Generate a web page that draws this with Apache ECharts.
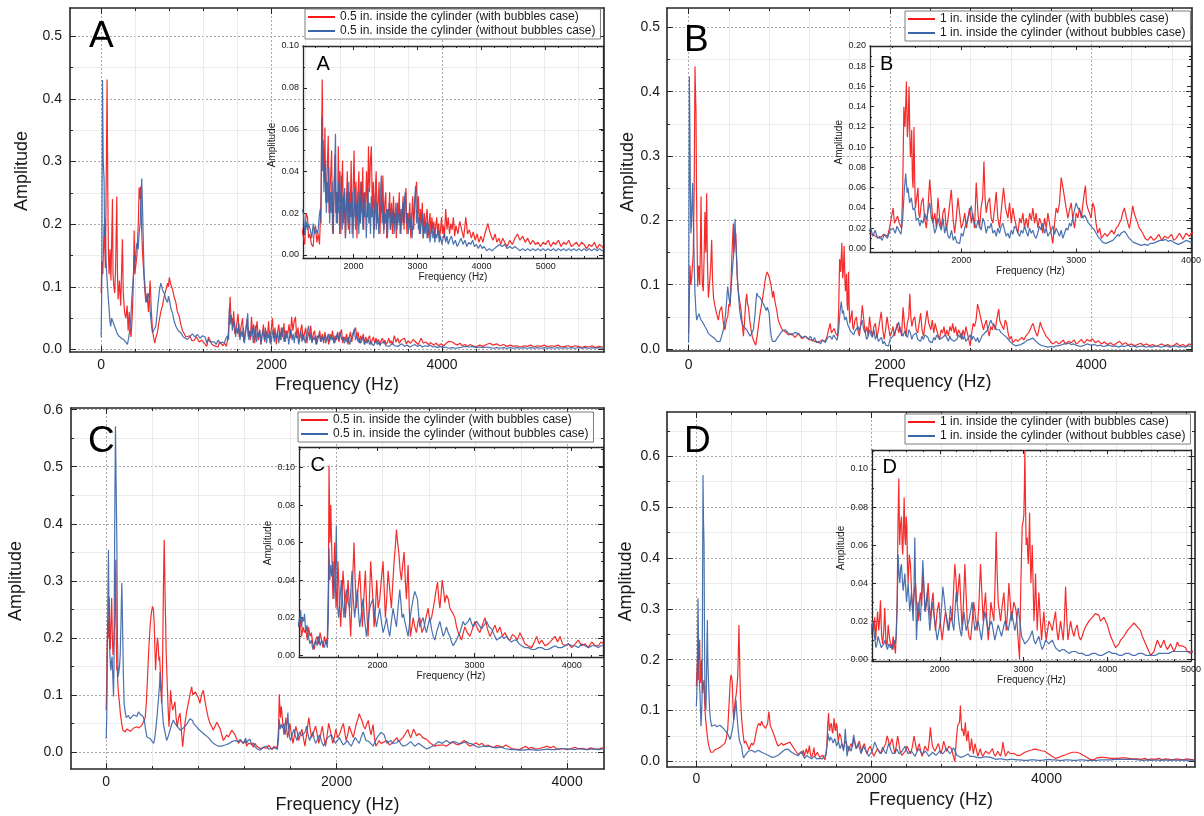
<!DOCTYPE html>
<html><head><meta charset="utf-8">
<script src="https://cdn.jsdelivr.net/npm/echarts@6/dist/echarts.min.js"></script>
<style>html,body{margin:0;padding:0;background:#fff}#c{width:1204px;height:816px}</style>
</head><body><div id="c"></div>
<script>
// Spectra: [frequency in Hz, amplitude x 1000]
const A_red=[[0,90],[10,140],[20,120],[35,200],[50,130],[62,300],[70,431],[78,260],[86,150],[94,120],[105,160],[115,110],[125,180],[133,240],[140,120],[150,100],[160,90],[170,130],[184,244],[192,120],[200,80],[215,110],[230,70],[250,176],[260,90],[275,60],[290,50],[305,70],[317,30],[330,60],[340,35],[350,20],[360,40],[370,70],[380,120],[388,190],[396,120],[410,120],[420,150],[427,150],[436,200],[446,258],[454,240],[462,260],[470,220],[477,186],[487,150],[497,130],[510,100],[525,75],[540,90],[555,60],[575,110],[590,60],[603,30],[615,20],[630,10],[645,20],[660,27],[680,45],[700,60],[720,70],[740,85],[760,95],[780,106],[790,100],[800,115],[815,105],[838,96],[855,85],[877,75],[895,60],[916,53],[935,40],[955,30],[975,25],[995,20],[1014,18],[1040,22],[1065,14],[1092,15],[1120,20],[1150,12],[1180,15],[1210,10],[1240,5],[1260,20],[1283,18],[1300,8],[1320,10],[1345,5],[1372,4],[1390,12],[1408,14],[1430,6],[1450,10],[1470,5],[1482,15],[1495,30],[1513,84],[1525,45],[1534,50],[1545,35],[1555,61],[1568,25],[1581,30],[1595,45],[1607,57],[1620,20],[1634,20],[1647,40],[1660,50],[1673,12],[1686,10],[1699,35],[1712,48],[1725,20],[1738,30],[1751,15],[1764,52],[1777,25],[1790,40],[1803,10],[1816,30],[1830,45],[1845,15],[1860,30],[1875,8],[1890,25],[1905,40],[1920,12],[1935,30],[1950,20],[1965,45],[1980,10],[1995,30],[2010,50],[2025,18],[2040,35],[2055,8],[2070,28],[2085,40],[2100,15],[2115,35],[2130,20],[2145,42],[2160,12],[2175,30],[2190,25],[2205,40],[2220,18],[2235,52],[2250,30],[2265,45],[2280,52],[2295,20],[2310,35],[2325,12],[2340,30],[2355,40],[2370,15],[2385,25],[2400,35],[2415,10],[2430,28],[2445,20],[2460,38],[2475,12],[2490,25],[2505,30],[2520,8],[2535,22],[2550,18],[2565,30],[2580,12],[2595,25],[2610,10],[2625,28],[2640,15],[2655,20],[2670,8],[2685,25],[2700,18],[2715,30],[2730,10],[2745,22],[2760,15],[2775,28],[2790,12],[2805,25],[2820,32],[2835,10],[2850,20],[2865,15],[2880,25],[2895,8],[2910,18],[2925,28],[2940,12],[2955,22],[2970,30],[2985,35],[3000,20],[3015,28],[3030,10],[3045,22],[3060,15],[3075,25],[3090,8],[3105,20],[3120,12],[3135,18],[3150,22],[3165,8],[3180,15],[3195,20],[3210,10],[3225,18],[3240,12],[3255,16],[3270,8],[3285,14],[3300,18],[3315,10],[3330,15],[3345,8],[3360,12],[3375,18],[3390,10],[3405,14],[3420,8],[3440,22],[3460,12],[3480,18],[3500,10],[3520,15],[3540,12],[3560,18],[3580,9],[3600,14],[3630,10],[3660,16],[3690,12],[3720,8],[3754,18],[3780,10],[3810,12],[3840,8],[3870,11],[3900,7],[3930,10],[3960,6],[3990,9],[4020,6],[4050,10],[4080,13],[4100,15],[4120,12],[4150,9],[4180,7],[4210,10],[4240,6],[4270,8],[4300,5],[4330,8],[4360,6],[4400,4],[4440,7],[4480,5],[4520,8],[4560,10],[4600,7],[4640,9],[4680,6],[4720,8],[4760,5],[4800,7],[4840,5],[4880,6],[4920,4],[4960,6],[5000,5],[5040,7],[5080,4],[5120,6],[5160,5],[5200,7],[5240,4],[5280,6],[5320,5],[5360,7],[5400,4],[5440,5],[5480,6],[5520,4],[5560,6],[5600,5],[5640,3],[5680,5],[5720,4],[5760,6],[5800,3],[5840,5],[5880,4],[5900,3]];
const A_blue=[[0,20],[8,100],[16,430],[25,300],[35,270],[41,180],[47,210],[56,150],[66,120],[80,90],[94,64],[104,45],[113,37],[123,50],[133,48],[150,40],[172,32],[190,25],[211,21],[240,18],[270,15],[290,12],[309,8],[325,20],[340,35],[348,48],[360,80],[370,100],[380,120],[390,150],[400,140],[407,155],[420,170],[435,160],[446,186],[458,200],[467,240],[477,273],[483,240],[489,210],[497,160],[505,120],[520,90],[536,75],[550,85],[563,90],[575,60],[590,40],[603,27],[620,30],[642,37],[655,55],[669,75],[685,95],[700,106],[720,95],[740,90],[760,80],[780,75],[790,85],[800,80],[820,65],[838,58],[857,45],[877,37],[905,30],[935,27],[965,20],[990,18],[1014,16],[1040,20],[1070,25],[1100,20],[1131,24],[1160,18],[1190,22],[1220,20],[1240,10],[1260,16],[1280,12],[1300,15],[1327,12],[1350,8],[1372,15],[1395,10],[1420,12],[1444,10],[1465,18],[1482,22],[1495,15],[1505,66],[1515,40],[1528,55],[1540,30],[1552,40],[1565,45],[1578,20],[1590,35],[1603,25],[1616,42],[1629,15],[1642,30],[1655,20],[1668,35],[1681,10],[1694,25],[1707,40],[1720,58],[1733,15],[1746,30],[1759,20],[1772,35],[1785,10],[1798,25],[1811,38],[1824,12],[1837,28],[1850,20],[1863,32],[1876,8],[1889,22],[1902,30],[1915,15],[1928,35],[1941,10],[1954,25],[1967,18],[1980,30],[1993,8],[2006,22],[2019,32],[2032,12],[2045,25],[2058,18],[2071,30],[2084,10],[2097,28],[2110,15],[2123,35],[2136,20],[2149,12],[2162,30],[2175,18],[2188,25],[2201,8],[2214,22],[2227,32],[2240,15],[2253,25],[2266,10],[2279,28],[2292,18],[2305,22],[2318,8],[2331,20],[2344,30],[2357,12],[2370,25],[2383,18],[2396,10],[2409,22],[2422,30],[2435,38],[2448,15],[2461,25],[2474,10],[2487,20],[2500,15],[2515,22],[2530,8],[2545,18],[2560,25],[2575,12],[2590,20],[2605,15],[2620,22],[2635,10],[2650,18],[2665,25],[2680,12],[2695,20],[2710,15],[2725,22],[2740,10],[2755,18],[2770,25],[2785,15],[2800,28],[2811,30],[2825,15],[2840,20],[2855,10],[2870,18],[2885,12],[2900,20],[2915,8],[2930,15],[2945,22],[2960,28],[2970,33],[2985,15],[3000,22],[3015,12],[3030,18],[3045,10],[3060,15],[3075,20],[3090,8],[3105,14],[3120,10],[3135,16],[3150,8],[3165,12],[3180,15],[3195,6],[3210,10],[3225,14],[3240,8],[3255,12],[3270,6],[3285,10],[3300,8],[3320,12],[3340,6],[3360,9],[3380,5],[3400,8],[3420,10],[3440,6],[3460,9],[3480,5],[3500,7],[3530,9],[3560,5],[3590,7],[3620,4],[3650,6],[3680,8],[3710,5],[3740,7],[3770,4],[3800,6],[3830,5],[3860,7],[3890,4],[3920,5],[3950,3],[3980,5],[4010,3],[4040,4],[4080,2],[4120,3],[4160,2],[4200,3],[4240,4],[4280,5],[4320,4],[4360,5],[4400,3],[4440,4],[4480,3],[4520,4],[4560,3],[4600,2],[4640,3],[4680,2],[4720,3],[4760,2],[4800,3],[4840,2],[4880,3],[4920,2],[4960,3],[5000,2],[5040,3],[5080,2],[5120,3],[5160,2],[5200,3],[5240,2],[5280,3],[5320,2],[5360,3],[5400,2],[5440,3],[5480,2],[5520,3],[5560,2],[5600,3],[5640,2],[5680,3],[5720,2],[5760,3],[5800,2],[5840,3],[5880,2],[5900,2]];
const B_red=[[0,25],[7,80],[13,130],[22,100],[30,110],[38,130],[46,150],[55,250],[63,439],[68,400],[73,370],[78,250],[83,180],[90,97],[100,130],[110,100],[117,160],[123,237],[129,150],[136,100],[145,90],[153,140],[162,213],[170,150],[179,242],[186,140],[196,80],[207,100],[219,128],[229,170],[237,110],[247,80],[262,66],[278,55],[295,45],[310,60],[328,66],[345,40],[361,30],[375,45],[388,50],[400,70],[411,66],[420,100],[428,138],[436,170],[444,195],[449,150],[454,160],[461,175],[468,180],[474,150],[481,118],[490,95],[501,80],[511,70],[521,60],[532,40],[544,20],[552,35],[560,55],[568,75],[577,86],[585,70],[594,65],[607,45],[620,30],[632,20],[643,14],[655,10],[667,6],[680,20],[693,35],[705,50],[715,60],[726,70],[740,85],[750,95],[760,107],[770,115],[780,120],[790,118],[800,112],[810,105],[818,100],[826,97],[835,80],[843,90],[852,80],[862,70],[876,60],[890,45],[909,37],[930,30],[958,27],[990,22],[1025,24],[1055,18],[1091,24],[1125,16],[1158,20],[1190,15],[1224,14],[1255,12],[1290,10],[1325,14],[1357,12],[1375,20],[1390,30],[1406,40],[1418,25],[1430,28],[1445,32],[1460,25],[1480,20],[1490,60],[1500,140],[1510,120],[1522,165],[1530,110],[1536,120],[1545,160],[1552,110],[1557,90],[1563,100],[1568,117],[1574,70],[1580,60],[1588,120],[1594,70],[1600,40],[1612,50],[1623,60],[1630,35],[1638,30],[1652,45],[1667,50],[1680,30],[1696,20],[1710,40],[1725,68],[1740,45],[1754,25],[1770,35],[1783,20],[1797,50],[1812,30],[1826,20],[1840,35],[1855,40],[1870,18],[1885,30],[1900,45],[1913,58],[1928,30],[1942,15],[1956,30],[1971,50],[1985,35],[2000,20],[2014,25],[2030,35],[2045,20],[2058,30],[2072,40],[2087,25],[2100,35],[2115,20],[2130,65],[2145,35],[2159,20],[2172,40],[2186,50],[2197,86],[2207,50],[2217,35],[2230,45],[2246,50],[2260,30],[2275,25],[2290,40],[2304,56],[2318,30],[2333,20],[2350,40],[2368,60],[2385,40],[2406,30],[2420,45],[2435,25],[2449,40],[2463,30],[2478,22],[2493,15],[2508,30],[2522,25],[2536,35],[2550,20],[2565,30],[2580,20],[2595,35],[2610,28],[2623,40],[2638,25],[2652,35],[2667,20],[2681,30],[2695,25],[2710,15],[2725,30],[2740,20],[2754,35],[2768,25],[2782,15],[2797,5],[2812,25],[2826,40],[2840,35],[2855,45],[2870,70],[2885,60],[2899,50],[2913,40],[2928,30],[2942,38],[2957,45],[2971,30],[2986,20],[3000,35],[3015,30],[3029,40],[3045,30],[3060,45],[3071,55],[3081,62],[3090,45],[3100,40],[3116,35],[3130,30],[3145,45],[3159,40],[3173,25],[3188,15],[3205,20],[3220,10],[3232,10],[3250,15],[3270,12],[3290,15],[3310,18],[3330,14],[3348,20],[3365,22],[3380,26],[3391,28],[3405,35],[3420,40],[3435,32],[3450,25],[3464,20],[3478,30],[3493,42],[3505,35],[3520,30],[3536,25],[3550,20],[3565,18],[3580,15],[3600,10],[3623,8],[3650,12],[3675,8],[3696,10],[3720,14],[3745,8],[3770,12],[3800,10],[3830,14],[3850,8],[3870,10],[3900,15],[3930,9],[3957,15],[3985,12],[4010,16],[4040,10],[4070,13],[4100,8],[4130,11],[4160,7],[4190,10],[4220,6],[4250,9],[4280,12],[4310,7],[4340,10],[4370,6],[4400,8],[4430,5],[4460,7],[4490,9],[4520,6],[4550,8],[4580,5],[4610,7],[4640,4],[4670,6],[4700,8],[4730,5],[4760,7],[4790,4],[4820,6],[4850,9],[4880,5],[4910,7],[4940,4],[4970,8],[5000,6]];
const B_blue=[[0,10],[3,200],[7,423],[12,350],[17,250],[22,180],[27,190],[34,230],[40,258],[45,210],[50,180],[57,120],[63,87],[72,60],[80,45],[90,50],[103,55],[115,48],[129,45],[145,40],[162,35],[180,30],[196,24],[212,22],[229,20],[245,18],[262,16],[280,12],[295,9],[312,12],[328,20],[345,30],[361,45],[375,70],[388,97],[400,80],[411,70],[420,90],[428,110],[438,130],[448,150],[455,180],[461,202],[467,170],[474,150],[484,110],[494,87],[507,60],[521,45],[533,40],[544,35],[560,32],[577,30],[594,25],[610,20],[627,25],[643,30],[660,55],[669,75],[677,87],[690,82],[700,80],[710,80],[725,75],[743,70],[757,65],[770,60],[782,65],[793,66],[800,55],[809,35],[820,20],[832,12],[842,9],[860,12],[876,14],[893,20],[909,24],[930,28],[958,30],[990,25],[1025,22],[1055,26],[1091,24],[1125,18],[1158,20],[1190,16],[1212,20],[1230,12],[1250,18],[1270,10],[1290,12],[1310,8],[1330,14],[1357,10],[1380,18],[1406,20],[1425,15],[1440,22],[1456,18],[1475,14],[1490,30],[1505,60],[1516,74],[1528,55],[1536,60],[1550,45],[1565,50],[1580,38],[1594,40],[1608,28],[1623,30],[1640,22],[1652,28],[1667,25],[1682,35],[1696,28],[1712,38],[1725,45],[1740,30],[1755,25],[1768,15],[1783,20],[1798,30],[1812,22],[1826,18],[1841,30],[1855,15],[1870,22],[1885,12],[1899,10],[1915,18],[1930,8],[1945,12],[1960,6],[1986,5],[2000,15],[2014,12],[2029,20],[2043,25],[2058,30],[2072,35],[2087,42],[2100,30],[2115,25],[2130,20],[2145,28],[2159,22],[2174,18],[2188,30],[2203,25],[2217,15],[2232,22],[2246,20],[2260,25],[2275,15],[2290,18],[2304,12],[2318,20],[2333,15],[2348,22],[2362,25],[2377,18],[2391,12],[2406,15],[2420,10],[2435,18],[2449,14],[2463,22],[2478,20],[2493,15],[2508,12],[2522,18],[2536,15],[2551,22],[2565,17],[2580,12],[2594,20],[2609,15],[2623,18],[2638,12],[2652,10],[2667,16],[2681,22],[2696,18],[2710,25],[2725,15],[2739,20],[2754,12],[2768,15],[2783,18],[2797,22],[2812,14],[2826,20],[2841,16],[2855,12],[2870,18],[2884,10],[2899,15],[2913,20],[2928,18],[2942,25],[2957,22],[2971,30],[2986,38],[3000,45],[3014,40],[3029,38],[3043,35],[3058,30],[3072,33],[3087,30],[3101,26],[3116,24],[3130,22],[3145,20],[3160,18],[3174,15],[3189,12],[3203,10],[3218,8],[3232,6],[3247,5],[3261,5],[3280,6],[3300,7],[3319,8],[3335,10],[3350,12],[3365,14],[3377,12],[3390,15],[3405,16],[3420,17],[3435,15],[3450,12],[3464,10],[3480,8],[3500,6],[3522,5],[3545,4],[3565,3],[3580,3],[3600,4],[3625,3],[3645,5],[3667,5],[3690,6],[3710,7],[3730,8],[3754,8],[3780,9],[3800,7],[3825,8],[3850,6],[3870,5],[3890,4],[3910,5],[3930,6],[3957,8],[3980,7],[4000,6],[4030,7],[4060,5],[4090,6],[4120,4],[4150,5],[4180,6],[4210,4],[4240,5],[4270,3],[4300,5],[4330,4],[4360,6],[4390,4],[4420,5],[4450,3],[4480,4],[4510,5],[4540,3],[4570,4],[4600,3],[4630,5],[4660,4],[4690,3],[4720,4],[4750,5],[4780,3],[4810,4],[4840,5],[4870,3],[4900,4],[4930,3],[4960,5],[5000,4]];
const C_red=[[0,73],[5,120],[9,190],[14,230],[20,200],[26,272],[31,200],[36,180],[42,230],[48,270],[54,200],[59,170],[66,190],[74,225],[80,280],[84,337],[88,200],[92,143],[96,150],[101,120],[108,100],[116,85],[122,70],[128,60],[136,48],[145,38],[155,36],[165,35],[180,40],[194,40],[210,36],[223,38],[240,42],[255,40],[267,44],[285,42],[300,45],[310,47],[322,52],[330,56],[339,60],[350,90],[359,130],[370,180],[383,225],[393,245],[403,255],[410,250],[417,225],[423,180],[429,143],[435,170],[441,190],[446,200],[452,185],[458,160],[464,167],[470,140],[476,110],[481,85],[487,120],[492,200],[496,270],[500,330],[504,372],[508,320],[512,267],[516,230],[520,180],[525,150],[530,120],[537,80],[545,44],[552,70],[559,108],[566,90],[577,73],[587,80],[597,88],[607,60],[617,44],[629,60],[641,68],[652,40],[664,9],[674,30],[684,50],[698,70],[713,85],[727,100],[742,114],[752,100],[762,97],[774,105],[786,108],[800,95],[814,85],[828,100],[843,108],[857,90],[872,73],[886,60],[901,50],[915,45],[930,38],[945,45],[960,52],[974,53],[990,40],[1003,30],[1017,20],[1032,25],[1046,30],[1061,26],[1075,32],[1090,38],[1104,41],[1118,30],[1133,22],[1148,15],[1163,20],[1177,18],[1191,15],[1205,20],[1220,10],[1235,15],[1249,12],[1262,14],[1278,8],[1290,15],[1307,10],[1320,12],[1335,6],[1350,3],[1365,8],[1380,10],[1395,6],[1410,12],[1425,8],[1440,4],[1455,10],[1470,6],[1485,10],[1496,40],[1502,101],[1512,60],[1520,80],[1526,80],[1535,45],[1543,30],[1552,45],[1560,60],[1567,40],[1574,25],[1584,35],[1594,50],[1608,30],[1622,15],[1634,30],[1646,45],[1658,35],[1670,20],[1684,30],[1698,40],[1711,25],[1725,10],[1742,35],[1759,60],[1771,40],[1783,25],[1800,35],[1818,45],[1832,30],[1845,15],[1860,30],[1876,45],[1890,25],[1904,10],[1918,30],[1931,50],[1948,35],[1966,15],[1980,25],[1993,40],[2008,25],[2024,30],[2040,40],[2058,50],[2070,35],[2082,20],[2096,30],[2110,45],[2127,35],[2144,25],[2158,38],[2172,50],[2185,58],[2196,67],[2208,60],[2220,55],[2234,45],[2247,40],[2260,48],[2275,55],[2287,40],[2299,30],[2308,40],[2316,48],[2328,25],[2340,10],[2355,15],[2368,20],[2385,15],[2402,12],[2418,18],[2436,20],[2458,12],[2481,15],[2500,20],[2522,25],[2540,18],[2557,20],[2575,25],[2591,30],[2605,35],[2619,39],[2632,30],[2643,25],[2655,32],[2667,40],[2680,35],[2694,28],[2710,32],[2729,30],[2746,25],[2763,25],[2780,22],[2797,20],[2815,15],[2832,12],[2850,10],[2866,8],[2884,12],[2900,15],[2925,12],[2952,10],[2978,14],[3003,18],[3030,14],[3055,12],[3080,16],[3107,20],[3132,14],[3158,10],[3185,13],[3210,16],[3235,12],[3261,15],[3287,10],[3313,12],[3340,9],[3364,8],[3390,11],[3416,10],[3440,8],[3467,12],[3493,9],[3519,6],[3550,5],[3588,4],[3615,7],[3639,10],[3665,6],[3691,8],[3725,5],[3759,6],[3795,8],[3828,10],[3855,7],[3880,10],[3905,6],[3931,5],[3965,6],[4000,4],[4035,6],[4069,8],[4100,5],[4137,6],[4170,4],[4206,7],[4240,5],[4275,5],[4300,7],[4326,6]];
const C_blue=[[0,23],[5,60],[9,130],[14,250],[20,354],[24,260],[29,190],[35,160],[41,143],[47,160],[52,167],[58,130],[64,97],[68,150],[72,310],[76,450],[81,571],[86,480],[93,366],[98,200],[104,132],[110,140],[116,150],[122,170],[128,220],[132,260],[136,296],[141,240],[145,190],[150,130],[156,85],[165,70],[174,60],[184,62],[194,64],[208,58],[223,60],[238,65],[252,67],[266,62],[281,70],[295,66],[310,67],[320,62],[330,56],[342,40],[354,26],[368,28],[383,23],[397,20],[412,15],[420,22],[426,32],[436,50],[446,73],[455,95],[464,120],[468,140],[474,110],[480,103],[487,75],[496,50],[510,35],[525,20],[540,28],[554,38],[568,48],[583,56],[597,50],[612,47],[627,42],[641,38],[655,40],[670,42],[684,44],[698,48],[713,53],[727,58],[742,61],[750,55],[757,50],[771,48],[786,44],[800,40],[814,38],[829,35],[843,33],[857,30],[872,29],[887,25],[901,22],[916,18],[930,15],[945,13],[959,12],[975,10],[990,11],[1003,10],[1017,9],[1032,12],[1046,10],[1060,14],[1075,15],[1090,18],[1104,16],[1118,20],[1133,20],[1148,18],[1163,22],[1177,20],[1191,15],[1200,18],[1210,24],[1220,15],[1230,20],[1240,18],[1250,22],[1262,12],[1275,16],[1290,10],[1305,6],[1320,8],[1335,3],[1350,6],[1365,8],[1380,5],[1395,10],[1410,5],[1425,8],[1440,6],[1455,4],[1470,8],[1485,4],[1495,20],[1502,57],[1510,40],[1520,48],[1530,42],[1543,50],[1552,30],[1560,30],[1570,50],[1577,69],[1584,40],[1592,25],[1601,20],[1615,30],[1629,40],[1642,28],[1656,20],[1668,30],[1680,35],[1698,28],[1715,25],[1727,35],[1739,45],[1752,30],[1766,20],[1780,28],[1794,35],[1806,22],[1818,15],[1835,22],[1852,30],[1870,18],[1887,10],[1904,18],[1921,25],[1938,28],[1955,30],[1972,22],[1990,15],[2007,20],[2024,25],[2041,18],[2058,12],[2075,15],[2093,20],[2110,14],[2127,10],[2144,18],[2161,25],[2178,20],[2196,15],[2212,25],[2230,35],[2242,28],[2254,20],[2268,22],[2282,18],[2299,14],[2316,10],[2333,18],[2351,25],[2368,30],[2385,34],[2398,32],[2412,30],[2424,22],[2436,15],[2453,18],[2471,20],[2488,15],[2505,12],[2522,16],[2540,20],[2557,14],[2574,10],[2591,8],[2608,12],[2625,15],[2643,18],[2660,14],[2677,10],[2694,12],[2711,15],[2728,12],[2746,10],[2763,7],[2780,5],[2797,6],[2814,8],[2831,10],[2849,12],[2866,15],[2883,18],[2900,16],[2918,15],[2935,18],[2952,20],[2969,17],[2986,15],[3003,16],[3021,18],[3046,16],[3072,14],[3098,16],[3124,18],[3150,15],[3175,14],[3200,11],[3227,8],[3252,9],[3278,10],[3304,9],[3330,10],[3355,8],[3381,7],[3407,8],[3433,8],[3459,6],[3485,5],[3519,4],[3553,4],[3587,3],[3622,3],[3656,4],[3691,4],[3725,3],[3759,3],[3793,4],[3828,5],[3862,4],[3897,4],[3931,5],[3966,6],[4000,5],[4034,5],[4069,4],[4103,6],[4137,5],[4172,4],[4206,5],[4240,5],[4275,4],[4300,5],[4326,5]];
const D_red=[[0,147],[5,170],[11,190],[16,210],[22,160],[27,232],[33,200],[38,239],[44,180],[49,154],[55,190],[61,200],[66,160],[72,134],[80,150],[88,160],[94,120],[99,100],[108,80],[118,62],[128,45],[137,36],[146,28],[156,23],[165,18],[175,16],[190,18],[200,20],[213,23],[232,25],[251,26],[270,28],[289,30],[308,33],[327,36],[342,45],[358,62],[370,100],[380,134],[388,160],[396,170],[404,165],[411,154],[418,110],[426,82],[434,100],[441,115],[449,125],[457,134],[465,150],[472,167],[478,200],[483,240],[487,268],[491,230],[495,200],[498,167],[504,130],[510,108],[517,85],[525,69],[536,50],[548,36],[562,40],[575,43],[588,30],[601,23],[616,30],[631,36],[646,32],[662,38],[675,50],[688,62],[700,70],[715,75],[730,70],[745,79],[760,72],[776,69],[790,65],[802,62],[815,75],[822,88],[829,98],[836,85],[845,70],[852,69],[865,62],[878,56],[891,50],[905,43],[920,35],[935,30],[954,33],[973,36],[992,32],[1011,30],[1030,35],[1049,33],[1068,38],[1087,36],[1106,28],[1125,23],[1144,18],[1163,13],[1182,17],[1199,20],[1210,15],[1222,22],[1233,10],[1245,18],[1257,25],[1270,15],[1280,20],[1291,31],[1305,12],[1318,8],[1330,15],[1343,27],[1355,10],[1370,7],[1383,18],[1397,12],[1411,8],[1430,5],[1442,12],[1455,8],[1470,3],[1480,15],[1490,30],[1500,70],[1510,95],[1520,60],[1530,70],[1542,75],[1550,60],[1558,55],[1566,70],[1574,85],[1582,65],[1590,60],[1598,75],[1606,70],[1614,50],[1622,40],[1635,55],[1649,50],[1663,35],[1677,25],[1693,35],[1709,40],[1725,28],[1741,20],[1755,30],[1769,35],[1783,28],[1797,45],[1813,35],[1829,25],[1845,32],[1861,40],[1875,28],[1888,20],[1904,30],[1920,35],[1934,22],[1948,15],[1968,25],[1988,30],[2008,18],[2028,10],[2048,18],[2068,25],[2088,20],[2108,15],[2128,22],[2147,20],[2163,35],[2179,50],[2193,42],[2207,30],[2221,38],[2235,45],[2251,30],[2267,15],[2283,30],[2299,50],[2313,35],[2327,20],[2347,12],[2367,10],[2387,20],[2406,30],[2426,22],[2446,15],[2466,28],[2486,50],[2502,35],[2518,20],[2532,28],[2546,35],[2562,20],[2578,10],[2594,18],[2610,30],[2627,25],[2645,20],[2660,40],[2673,67],[2685,45],[2697,30],[2711,25],[2725,20],[2745,28],[2765,35],[2779,25],[2793,15],[2809,25],[2825,40],[2841,30],[2857,20],[2870,25],[2884,30],[2898,28],[2912,25],[2924,18],[2936,10],[2944,5],[2952,0],[2960,20],[2968,40],[2976,55],[2984,70],[2994,72],[3004,76],[3010,90],[3016,110],[3024,80],[3032,60],[3038,62],[3044,64],[3050,55],[3056,50],[3064,60],[3072,77],[3080,55],[3088,40],[3096,50],[3104,60],[3114,40],[3124,20],[3134,30],[3143,45],[3153,30],[3163,15],[3173,25],[3183,35],[3199,22],[3215,10],[3229,18],[3243,25],[3257,15],[3271,10],[3287,15],[3303,20],[3323,18],[3343,15],[3362,20],[3382,25],[3398,15],[3414,10],[3428,15],[3442,20],[3458,15],[3474,10],[3488,20],[3502,38],[3516,22],[3530,10],[3546,15],[3562,20],[3582,15],[3602,12],[3622,16],[3641,18],[3661,12],[3681,10],[3701,12],[3721,15],[3741,17],[3761,18],[3781,20],[3801,20],[3821,22],[3841,22],[3860,24],[3880,25],[3900,23],[3920,20],[3940,21],[3960,22],[3980,20],[4000,18],[4020,15],[4040,12],[4060,10],[4080,8],[4100,6],[4120,5],[4140,8],[4159,10],[4179,11],[4199,12],[4219,13],[4239,15],[4259,16],[4279,17],[4299,18],[4319,19],[4339,18],[4359,17],[4379,16],[4398,15],[4418,12],[4438,10],[4458,8],[4478,6],[4498,4],[4518,2],[4538,3],[4558,4],[4578,7],[4598,10],[4618,8],[4637,6],[4657,8],[4677,10],[4697,7],[4717,5],[4737,6],[4757,8],[4777,6],[4797,4],[4817,6],[4837,9],[4857,7],[4876,6],[4896,7],[4916,8],[4936,6],[4956,4],[4976,5],[4996,3],[5040,5],[5080,4],[5120,6],[5160,3],[5200,5],[5240,4],[5280,6],[5320,3],[5360,5],[5400,4],[5440,3],[5480,5],[5520,4],[5560,3],[5600,5],[5640,4],[5680,3],[5700,4]];
const D_blue=[[0,108],[5,130],[11,167],[15,250],[19,321],[24,250],[30,180],[36,150],[42,134],[48,100],[53,69],[59,90],[65,120],[70,300],[76,563],[82,470],[88,430],[93,250],[99,128],[105,110],[110,100],[116,160],[121,230],[126,278],[131,200],[137,167],[145,130],[152,100],[163,80],[175,69],[194,70],[213,72],[232,68],[251,69],[270,71],[289,72],[308,65],[327,62],[342,58],[358,56],[371,50],[384,43],[397,50],[411,62],[422,75],[434,88],[444,105],[453,121],[460,100],[468,82],[479,60],[490,43],[503,35],[517,30],[528,15],[540,7],[557,12],[575,16],[594,20],[612,23],[631,22],[650,20],[669,18],[688,20],[707,22],[726,20],[745,18],[764,16],[783,15],[802,13],[821,12],[840,10],[859,8],[878,7],[897,9],[916,10],[935,12],[954,15],[973,18],[992,20],[1011,23],[1030,26],[1049,24],[1068,22],[1087,18],[1106,16],[1125,14],[1144,12],[1163,11],[1182,13],[1199,20],[1212,15],[1225,10],[1237,6],[1250,8],[1262,12],[1275,10],[1288,8],[1300,6],[1315,5],[1330,8],[1345,10],[1360,7],[1375,5],[1390,8],[1410,6],[1425,8],[1440,5],[1455,10],[1468,8],[1480,12],[1492,30],[1502,55],[1512,45],[1522,40],[1532,48],[1542,50],[1552,42],[1562,36],[1572,40],[1582,45],[1592,38],[1602,30],[1612,35],[1622,40],[1632,32],[1641,25],[1651,30],[1661,35],[1671,28],[1681,20],[1691,35],[1701,64],[1710,40],[1721,10],[1731,20],[1741,30],[1755,25],[1769,20],[1783,35],[1797,52],[1809,40],[1821,25],[1835,28],[1849,35],[1865,25],[1881,15],[1895,22],[1908,30],[1924,25],[1940,20],[1954,15],[1968,10],[1988,15],[2008,20],[2022,28],[2036,38],[2052,32],[2068,25],[2084,20],[2100,15],[2113,20],[2127,28],[2147,20],[2167,15],[2181,25],[2195,35],[2211,28],[2227,20],[2243,15],[2259,12],[2273,18],[2287,25],[2301,20],[2315,15],[2331,18],[2347,20],[2367,25],[2386,30],[2402,22],[2418,15],[2438,18],[2458,20],[2478,15],[2498,10],[2518,18],[2538,25],[2558,20],[2578,15],[2598,18],[2618,20],[2638,15],[2657,10],[2677,14],[2697,18],[2717,15],[2737,12],[2757,16],[2777,20],[2797,18],[2817,15],[2837,20],[2857,25],[2877,20],[2896,15],[2916,20],[2936,27],[2956,20],[2976,12],[2996,10],[3016,8],[3036,9],[3056,10],[3080,12],[3104,15],[3124,10],[3143,8],[3163,10],[3183,12],[3203,8],[3223,5],[3243,7],[3263,10],[3283,9],[3303,8],[3323,9],[3343,10],[3362,8],[3382,6],[3406,5],[3430,4],[3456,5],[3482,5],[3512,4],[3542,3],[3582,4],[3622,4],[3661,3],[3701,3],[3741,2],[3781,2],[3821,3],[3861,3],[3900,2],[3940,2],[3980,3],[4020,4],[4060,3],[4100,3],[4140,2],[4179,2],[4219,3],[4259,3],[4299,2],[4339,2],[4379,3],[4418,3],[4458,2],[4498,2],[4538,2],[4578,2],[4618,3],[4657,3],[4697,3],[4737,3],[4777,4],[4817,4],[4857,4],[4896,4],[4936,4],[4976,4],[5000,4],[5050,3],[5100,2],[5150,3],[5200,2],[5250,3],[5300,2],[5350,3],[5400,2],[5450,3],[5500,2],[5550,3],[5600,2],[5650,3],[5700,2]];

// Series names (legends)
const NAMES_05=['0.5 in. inside the cylinder (with bubbles case)','0.5 in. inside the cylinder (without bubbles case)'];
const NAMES_1=['1 in. inside the cylinder (with bubbles case)','1 in. inside the cylinder (without bubbles case)'];

// Tick labels
const MAIN_X_TICKS=[0,2000,4000];
const MAIN_Y_TICKS_05=[0,0.1,0.2,0.3,0.4,0.5];
const MAIN_Y_TICKS_06=[0,0.1,0.2,0.3,0.4,0.5,0.6];
const INSET_X_TICKS_A=[2000,3000,4000,5000];
const INSET_X_TICKS_B=[2000,3000,4000];
const INSET_X_TICKS_C=[2000,3000,4000];
const INSET_X_TICKS_D=[2000,3000,4000,5000];
const INSET_Y_TICKS_10=[0,0.02,0.04,0.06,0.08,0.1];
const INSET_Y_TICKS_20=[0,0.02,0.04,0.06,0.08,0.1,0.12,0.14,0.16,0.18,0.2];

const RED='#f41a1a', BLUE='#3a66a8';
const FF='"Liberation Sans", Arial, sans-serif';

const panels=[
 {key:'A', red:A_red, blue:A_blue, names:NAMES_05,
  main:{grid:[70,8,534,344], x:[-365,5900,MAIN_X_TICKS,400], y:[-0.004,0.545,MAIN_Y_TICKS_05,0.05], xGap:24, yGap:39, yPad:18, xm:6, ym:8},
  inset:{grid:[303,46,300,212], x:[1213,5895,INSET_X_TICKS_A,200], y:[-0.0015,0.1,INSET_Y_TICKS_10,0.01], xGap:10, yGap:22, yPad:14},
  legend:[305,9], letter:[89,18.5], iletter:[316.5,54]},
 {key:'B', red:B_red, blue:B_blue, names:NAMES_1,
  main:{grid:[667,8,525,343], x:[-215,5000,MAIN_X_TICKS,400], y:[-0.003,0.53,MAIN_Y_TICKS_05,0.05], xGap:22, yGap:30, yPad:15, xm:7, ym:7},
  inset:{grid:[870,46,321,206.5], x:[1205,4000,INSET_X_TICKS_B,200], y:[-0.004,0.2,INSET_Y_TICKS_20,0.01], xGap:9, yGap:24, yPad:14},
  legend:[905,11], letter:[684,22], iletter:[880,54]},
 {key:'C', red:C_red, blue:C_blue, names:NAMES_05,
  main:{grid:[71,408,533,361], x:[-305,4320,MAIN_X_TICKS,400], y:[-0.03,0.603,MAIN_Y_TICKS_06,0.05], xGap:27, yGap:46, yPad:15, xm:6.5, ym:8},
  inset:{grid:[299,447,304,210], x:[1193,4322,INSET_X_TICKS_C,200], y:[-0.001,0.111,INSET_Y_TICKS_10,0.01], xGap:11, yGap:24, yPad:18},
  legend:[298,412], letter:[88,423.5], iletter:[310.5,455.5]},
 {key:'D', red:D_red, blue:D_blue, names:NAMES_1,
  main:{grid:[667,412,528,355], x:[-335,5695,MAIN_X_TICKS,400], y:[-0.011,0.687,MAIN_Y_TICKS_06,0.05], xGap:24, yGap:32, yPad:16, xm:5, ym:7},
  inset:{grid:[872,450,322,211], x:[1190,5000,INSET_X_TICKS_D,200], y:[-0.001,0.11,INSET_Y_TICKS_10,0.01], xGap:11, yGap:24, yPad:15},
  legend:[905,414], letter:[684,423.5], iletter:[882.5,457]}
];

function minors(min,max,step,major){
  const out=[];
  for(let k=Math.ceil(min/step);k*step<=max+1e-9;k++){
    const v=+(k*step).toFixed(6);
    if(!major.some(m=>Math.abs(m-v)<step*1e-3)) out.push(v);
  }
  return out;
}

const grids=[], xAxes=[], yAxes=[], series=[], graphic=[], legends=[];

function addAxes(list, dim, gi, ax, st){
  const [min,max,major,step]=ax;
  const isX=dim==='x';
  const p1=isX?'bottom':'left', p2=isX?'top':'right';
  const minor=minors(min,max,step,major);
  const base={type:'value',gridIndex:gi,min:min,max:max};
  const line={show:true,onZero:false,lineStyle:{color:'#262626',width:st.lw}};
  const noLine={show:false,onZero:false};
  const tick=(vals,len)=>({show:true,inside:true,length:len,customValues:vals,lineStyle:{color:'#262626',width:1}});
  const first=list.length;
  list.push(Object.assign({},base,{position:p1,axisLine:line,axisTick:tick(major,st.tl),
    axisLabel:{show:true,customValues:major,formatter:v=>st.fmt(v),fontSize:st.lf,margin:st.lm,color:'#1a1a1a',fontFamily:FF},
    splitLine:st.grid?{show:true,lineStyle:{color:'#a9a9a9',width:1,type:[2,2]}}:{show:false},
    name:st.name,nameLocation:'middle',nameGap:st.gap,
    nameTextStyle:{fontSize:st.nf,color:'#1a1a1a',fontFamily:FF,padding:st.pad}}));
  list.push(Object.assign({},base,{position:p1,axisLine:noLine,axisTick:tick(minor,st.tl/2),axisLabel:{show:false},
    splitLine:st.grid?{show:true,lineStyle:{color:'#ebebeb',width:1}}:{show:false}}));
  list.push(Object.assign({},base,{position:p2,axisLine:line,axisTick:tick(major,st.tl),axisLabel:{show:false},splitLine:{show:false}}));
  list.push(Object.assign({},base,{position:p2,axisLine:noLine,axisTick:tick(minor,st.tl/2),axisLabel:{show:false},splitLine:{show:false}}));
  return first;
}

function toData(arr){ return arr.map(p=>[p[0],p[1]/1000]); }

panels.forEach(p=>{
  ['main','inset'].forEach(kind=>{
    const c=p[kind], isMain=kind==='main';
    const gi=grids.length;
    grids.push({left:c.grid[0],top:c.grid[1],width:c.grid[2],height:c.grid[3],containLabel:false,show:false});
    const xi=addAxes(xAxes,'x',gi,c.x,{
      lw:isMain?1.6:1.3, tl:isMain?6:4, lf:isMain?14:9, lm:isMain?c.xm:4, grid:isMain,
      fmt:v=>String(Math.round(v)), name:'Frequency (Hz)', gap:c.xGap, nf:isMain?18:10, pad:0});
    const yi=addAxes(yAxes,'y',gi,c.y,{
      lw:isMain?1.6:1.3, tl:isMain?6:4, lf:isMain?14:9, lm:isMain?c.ym:4, grid:isMain,
      fmt:v=>v.toFixed(isMain?1:2), name:'Amplitude', gap:c.yGap, nf:isMain?18:10, pad:[0,0,0,c.yPad]});
    [[p.red,RED,p.names[0]],[p.blue,BLUE,p.names[1]]].forEach(([d,col,nm])=>{
      series.push({type:'line',name:nm,xAxisIndex:xi,yAxisIndex:yi,data:toData(d),
        showSymbol:false,symbol:'none',clip:true,silent:true,animation:false,
        lineStyle:{width:1.2,color:col,opacity:0.92},itemStyle:{color:col}});
    });
  });
  legends.push({data:p.names,left:p.legend[0],top:p.legend[1],orient:'vertical',icon:'rect',
    itemWidth:27,itemHeight:2,itemGap:2,padding:[2,5,2,3],borderColor:'#7d7d7d',borderWidth:1,
    backgroundColor:'#fff',selectedMode:false,textStyle:{fontSize:12,color:'#1a1a1a',fontFamily:FF}});
  graphic.push({type:'text',left:p.letter[0],top:p.letter[1],z:100,
    style:{text:p.key,font:'37px '+FF,fill:'#000'}});
  graphic.push({type:'text',left:p.iletter[0],top:p.iletter[1],z:100,
    style:{text:p.key,font:'20px '+FF,fill:'#000'}});
});

const chart=echarts.init(document.getElementById('c'),null,{renderer:'canvas'});
chart.setOption({animation:false,backgroundColor:'#fff',grid:grids,xAxis:xAxes,yAxis:yAxes,
  series:series,legend:legends,graphic:graphic});
</script></body></html>
